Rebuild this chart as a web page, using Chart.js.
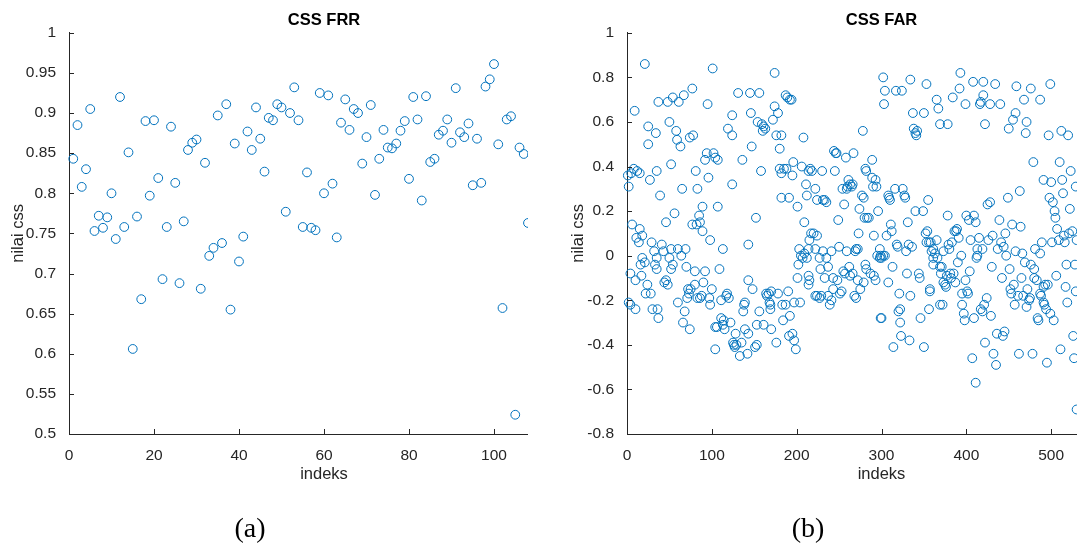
<!DOCTYPE html>
<html>
<head>
<meta charset="utf-8">
<title>CSS FRR / CSS FAR</title>
<script src="https://cdn.jsdelivr.net/npm/chart.js@4.4.0/dist/chart.umd.min.js"></script>
<style>
  html, body { margin: 0; padding: 0; background: #fff; overflow: hidden; }
  body { width: 1077px; height: 545px; position: relative; }
  .panel { position: absolute; top: 0; height: 545px; overflow: hidden; }
  .panel canvas { display: block; }
  #panelA { left: 0; width: 528px; }
  #panelB { left: 560px; width: 517px; }
  .caption { position: absolute; top: 514px; font: 28px/28px "Liberation Serif", "Times New Roman", serif; color: #000; transform: translateX(-50%); }
</style>
</head>
<body>
<div class="panel" id="panelA"><canvas id="frrChart" width="600" height="545"></canvas></div>
<div class="panel" id="panelB"><canvas id="farChart" width="600" height="545"></canvas></div>
<div class="caption" style="left:250px">(a)</div>
<div class="caption" style="left:808px">(b)</div>
<script>
// nilai css untuk FRR, indeks 1..109 (sisanya terpotong di gambar)
const frrVal = [
  0.843, 0.885, 0.808, 0.830, 0.905, 0.753, 0.772, 0.757, 0.770, 0.800,
  0.743, 0.920, 0.758, 0.851, 0.606, 0.771, 0.668, 0.890, 0.797, 0.891,
  0.819, 0.693, 0.758, 0.883, 0.813, 0.688, 0.765, 0.854, 0.863, 0.867,
  0.681, 0.838, 0.722, 0.732, 0.897, 0.738, 0.911, 0.655, 0.862, 0.715,
  0.746, 0.877, 0.854, 0.907, 0.868, 0.827, 0.894, 0.891, 0.911, 0.907,
  0.777, 0.900, 0.932, 0.891, 0.758, 0.826, 0.757, 0.754, 0.925, 0.800,
  0.922, 0.812, 0.745, 0.888, 0.917, 0.879, 0.905, 0.900, 0.837, 0.870,
  0.910, 0.798, 0.843, 0.879, 0.857, 0.856, 0.862, 0.878, 0.890, 0.818,
  0.920, 0.892, 0.791, 0.921, 0.839, 0.843, 0.873, 0.878, 0.892, 0.863,
  0.931, 0.876, 0.870, 0.887, 0.810, 0.868, 0.813, 0.933, 0.942, 0.961,
  0.861, 0.657, 0.892, 0.896, 0.524, 0.857, 0.849, 0.763, 0.848
];

// FAR: indeks dan nilai css dibaca per daerah dari gambar
const farIdx = [
  21, 9, 1, 2, 5, 8, 12, 15, 6, 11, 15, 14, 18, 18, 21, 16, 4, 10, 17, 2, 4, 10, 22,
  25, 25, 27, 34, 37, 35, 39, 29, 32, 35, 33, 24, 28, 35, 30, 36, 37, 41, 43, 46, 44, 46, 48, 48, 50, 52, 54, 56, 50, 52, 54, 52,
  58, 59, 61, 63, 65, 67, 60, 64, 69, 70, 60, 66, 68, 74, 72, 73, 75, 71, 74, 77, 78,
  81, 83, 77, 82, 85, 86, 89, 89, 80, 83, 86, 90, 92, 88, 80, 92, 94, 95, 96, 98, 97, 98, 100, 101, 102, 104, 104, 106, 104,
  107, 107, 109, 111, 113, 111, 113, 114, 115, 117, 118, 119, 120, 122, 124, 124, 124, 125, 126, 127, 128, 129,
  131, 133, 135, 136, 137, 138, 139, 139, 143, 142, 145, 146, 147, 143, 143, 148, 151, 152, 153, 154, 156, 156, 153,
  158, 159, 160, 161, 161, 163, 164, 165, 167, 168, 169, 169, 170, 170, 172, 174, 174, 176, 176, 178, 178, 180, 180,
  182, 182, 182, 185, 187, 188, 189, 191, 192, 194, 184, 183, 187, 190, 192, 191, 195, 197, 199, 197, 195, 196, 201, 201, 202, 204,
  206, 208, 209, 211, 212, 214, 216, 218, 224, 222, 230, 203, 205, 207, 209, 212, 214, 215, 217, 220,
  222, 224, 227, 214, 215, 214, 222, 224, 227, 229, 228, 231, 233, 235, 231, 235, 233, 237,
  237, 239, 241, 243, 243, 244, 246, 247, 245, 249, 250, 251, 253, 255, 257, 258, 259, 256, 254, 248, 241,
  260, 261, 263, 265, 266, 259, 262, 263, 266, 267, 269, 270, 272, 268, 270, 272, 273, 274, 277, 278, 279, 280, 281, 282, 282, 283, 275, 279, 281,
  285, 287, 289, 289, 290, 291, 291, 293, 293, 294, 295, 296, 298, 298, 299, 300, 302, 299, 300, 302, 303, 304, 304, 306,
  308, 309, 310, 311, 312, 308, 313, 314, 316, 317, 318, 319, 320, 321, 322, 323, 324, 325, 327, 328, 329, 330, 322,
  331, 332, 333, 334, 334, 336, 337, 338, 340, 341, 340, 342, 344, 345, 346, 349, 350, 350, 352, 353, 353, 354, 355, 356, 356,
  357, 357, 358, 359, 361, 361, 361, 363, 365, 365, 366, 367, 369, 369, 369, 370, 371, 372, 373, 373, 375, 376, 377, 378, 378, 379, 380,
  381, 382, 383, 384, 385, 386, 387, 388, 389, 390, 391, 392, 393, 394, 395, 395, 397, 398, 399, 399, 400, 401, 402,
  403, 404, 405, 407, 408, 409, 409, 411, 412, 413, 413, 415, 416, 417, 417, 419, 419, 420, 420, 421, 422, 422, 424, 411,
  425, 426, 428, 428, 429, 430, 431, 432, 434, 435, 436, 437, 439, 440, 441, 442, 443, 444, 445, 446, 447,
  449, 450, 451, 452, 453, 454, 455, 456, 457, 458, 458, 459, 461, 462, 463, 464, 465, 466, 467, 468, 469, 470, 471, 471,
  472, 474, 475, 476, 476, 478, 479, 480, 480, 481, 483, 484, 485, 487, 487, 487, 488, 489, 491, 491, 491, 492, 493, 494,
  495, 496, 497, 498, 499, 499, 500, 501, 502, 503, 504, 505, 506, 507, 509, 510, 511, 512, 513, 514,
  515, 516, 517, 518, 519, 520, 521, 522, 523, 525, 526, 527, 528, 529, 529, 530, 530
];
const farVal = [
  0.86, 0.65, 0.36, 0.31, 0.37, 0.39, 0.38, 0.37, 0.14, 0.08, 0.12, 0.06, 0.09, -0.01, -0.03, -0.04, -0.08, -0.11, -0.09, -0.21, -0.22, -0.24, -0.17,
  0.58, 0.50, 0.34, 0.55, 0.69, 0.38, 0.27, 0.06, 0.02, -0.01, -0.04, -0.13, -0.17, -0.06, -0.24, -0.24, -0.28, 0.05, 0.02, 0.15, -0.12, -0.11, -0.13, 0.69, 0.60, 0.41, 0.71, 0.19, -0.01, -0.06, -0.04, 0.03,
  0.56, 0.52, 0.69, 0.49, 0.30, 0.72, 0.03, 0.00, 0.03, -0.05, -0.21, -0.30, -0.25, -0.33, -0.15, -0.17, -0.15, -0.19, 0.53, 0.75, 0.54,
  0.38, 0.30, 0.14, 0.14, 0.18, 0.15, 0.22, 0.11, -0.07, -0.19, -0.19, -0.12, -0.07, -0.18, -0.13, 0.43, 0.46, 0.68, 0.35, 0.07, -0.19, -0.22, -0.15, 0.84, 0.46, 0.44, -0.32, -0.32, -0.42,
  0.43, 0.22, -0.06, -0.20, 0.03, -0.28, -0.31, -0.29, -0.33, -0.18, -0.17, 0.57, -0.19, -0.30, 0.54, 0.63, 0.32, -0.39, -0.40, -0.41, -0.35, -0.40,
  0.73, -0.45, -0.39, 0.43, -0.25, -0.22, -0.21, -0.33, -0.35, -0.44, 0.73, 0.64, 0.49, 0.05, -0.11, -0.15, -0.41, 0.17, -0.31, 0.60, 0.73, -0.25, -0.40,
  0.38, 0.59, 0.56, -0.31, 0.58, 0.57, -0.17, -0.18, -0.17, -0.21, -0.22, -0.24, -0.16, -0.33, 0.61, 0.67, 0.82, 0.54, -0.39, 0.64, -0.17, 0.39, 0.48,
  0.54, 0.37, 0.26, 0.39, 0.72, 0.39, 0.71, 0.26, 0.70, 0.70, -0.29, -0.22, -0.22, -0.16, -0.27, -0.36, -0.35, -0.38, -0.42, -0.21, 0.36, 0.42, 0.22, -0.10, -0.04, -0.21,
  0.40, 0.53, 0.15, 0.32, 0.27, 0.38, 0.39, 0.38, 0.25, 0.30, 0.38, 0.03, 0.00, -0.01, 0.01, -0.01, 0.03, 0.07, 0.10, 0.10,
  0.03, 0.09, -0.01, -0.09, -0.11, -0.13, -0.18, -0.18, -0.19, -0.18, -0.06, 0.25, 0.25, 0.24, 0.02, -0.01, -0.10, -0.05,
  -0.18, -0.22, -0.20, -0.10, -0.15, 0.47, 0.46, 0.46, 0.38, 0.16, 0.04, -0.17, -0.16, -0.07, -0.08, 0.44, 0.30, 0.23, 0.30, -0.11, 0.02,
  0.31, 0.34, 0.32, 0.31, 0.32, 0.02, -0.05, -0.09, -0.08, 0.46, 0.02, 0.03, 0.03, -0.18, -0.19, -0.11, 0.10, 0.21, 0.27, 0.56, 0.26, 0.17, 0.39, 0.38, -0.06, 0.17, -0.15, -0.12, -0.04,
  0.17, -0.08, 0.43, 0.35, 0.31, 0.09, -0.09, -0.11, 0.34, 0.31, 0.00, 0.20, -0.01, 0.03, 0.00, -0.01, 0.00, -0.28, -0.28, 0.80, 0.68, 0.00, 0.74, 0.09,
  0.27, 0.26, 0.25, 0.14, 0.11, -0.12, -0.05, -0.41, 0.30, 0.74, 0.05, 0.04, -0.25, -0.17, -0.24, -0.36, 0.74, 0.30, 0.27, 0.26, 0.02, -0.08, -0.30,
  0.15, 0.05, -0.38, 0.79, -0.18, 0.04, 0.64, 0.57, 0.55, 0.54, 0.20, 0.56, -0.08, -0.10, -0.28, 0.20, 0.64, -0.41, 0.10, 0.77, 0.06, 0.11, 0.25, -0.24, 0.06,
  -0.15, -0.16, 0.06, 0.02, -0.01, 0.03, -0.04, 0.01, 0.70, 0.07, -0.01, 0.66, -0.05, -0.22, 0.59, -0.08, -0.05, -0.22, -0.12, 0.02, -0.13, -0.14, -0.09, 0.18, 0.59, 0.05, 0.03,
  -0.08, -0.10, 0.06, 0.71, -0.08, 0.11, -0.12, 0.11, 0.12, -0.03, 0.08, 0.75, 0.82, 0.00, -0.17, -0.22, -0.26, -0.29, 0.68, -0.11, 0.18, -0.16, -0.17,
  0.16, -0.07, 0.07, -0.46, 0.78, -0.28, 0.18, 0.15, -0.01, 0.00, 0.03, 0.08, 0.68, 0.69, -0.24, -0.25, 0.03, 0.78, 0.72, -0.22, 0.59, -0.39, -0.19, -0.57,
  0.23, 0.07, 0.68, 0.24, -0.27, -0.05, 0.09, -0.44, 0.77, -0.49, -0.35, 0.03, 0.16, 0.68, 0.06, -0.10, -0.36, 0.04, -0.34, 0.10, 0.00,
  0.26, 0.57, -0.06, -0.15, -0.17, 0.14, 0.61, -0.13, -0.22, 0.02, 0.64, 0.76, -0.18, -0.44, 0.29, 0.13, -0.10, 0.01, -0.18, 0.70, -0.03, 0.55, 0.60, -0.23,
  -0.15, -0.20, -0.19, 0.75, -0.04, -0.44, 0.42, -0.10, -0.06, 0.03, -0.11, -0.28, -0.29, 0.70, -0.17, 0.01, -0.18, 0.06, 0.34, -0.14, -0.21, -0.22, -0.13, -0.24,
  -0.48, -0.13, 0.54, 0.26, 0.77, -0.26, 0.33, 0.06, 0.24, -0.29, 0.20, 0.17, -0.09, 0.12, 0.07, 0.42, -0.42, 0.56, 0.34, 0.28,
  0.09, 0.06, -0.14, -0.04, -0.21, 0.54, 0.10, 0.21, 0.38, 0.11, -0.36, -0.46, -0.04, -0.16, 0.31, -0.69, 0.07
];

const FONT = '"Liberation Sans", Arial, sans-serif';
const TEXT = '#262626';
const AXIS = '#262626';
const BLUE = '#0072BD';

// label tick gaya MATLAB: 1, 0.95, 0.9, -0.2, 0
const tickLabel = v => String(Number(v.toFixed(3)));

// tick kecil ke arah dalam seperti MATLAB
const innerTicks = {
  id: 'innerTicks',
  afterDraw(chart) {
    const { ctx, chartArea: a, scales: { x, y } } = chart;
    ctx.save();
    ctx.strokeStyle = AXIS;
    ctx.lineWidth = 1;
    ctx.beginPath();
    x.ticks.forEach(t => {
      const px = Math.round(x.getPixelForValue(t.value)) + 0.5;
      ctx.moveTo(px, a.bottom);
      ctx.lineTo(px, a.bottom - 5);
    });
    y.ticks.forEach(t => {
      const py = Math.round(y.getPixelForValue(t.value)) + 0.5;
      ctx.moveTo(a.left, py);
      ctx.lineTo(a.left + 5, py);
    });
    ctx.stroke();
    ctx.restore();
  }
};

function buildChart(id, title, points, xMax, xStep, yMin, yMax, yStep, axisWidth, padRight) {
  return new Chart(document.getElementById(id), {
    type: 'scatter',
    data: {
      datasets: [{
        data: points,
        pointStyle: 'circle',
        pointRadius: 4.4,
        pointHoverRadius: 4.4,
        pointBorderWidth: 1,
        borderColor: BLUE,
        backgroundColor: 'rgba(0,0,0,0)',
        clip: false
      }]
    },
    options: {
      responsive: false,
      animation: false,
      events: [],
      layout: { padding: { left: 0, right: padRight, top: 0, bottom: 0 } },
      plugins: {
        legend: { display: false },
        tooltip: { enabled: false },
        title: {
          display: true,
          text: title,
          fullSize: false,
          color: '#000',
          font: { family: FONT, size: 16.5, weight: 'bold', lineHeight: 1.2 },
          padding: { top: 11, bottom: 2 }
        }
      },
      scales: {
        x: {
          type: 'linear',
          min: 0,
          max: xMax,
          grid: { display: false },
          border: { display: true, color: AXIS, width: 1 },
          ticks: { stepSize: xStep, color: TEXT, padding: 4, font: { family: FONT, size: 15.5 }, callback: tickLabel },
          title: { display: true, text: 'indeks', color: TEXT, font: { family: FONT, size: 16.5, lineHeight: 1.2 }, padding: { top: 0, bottom: 61 } },
          afterFit: s => { s.height = 111; }
        },
        y: {
          type: 'linear',
          min: yMin,
          max: yMax,
          grid: { display: false },
          border: { display: true, color: AXIS, width: 1 },
          ticks: { stepSize: yStep, color: TEXT, padding: 5, font: { family: FONT, size: 15.5 }, callback: tickLabel },
          title: { display: true, text: 'nilai css', color: TEXT, font: { family: FONT, size: 16.5, lineHeight: 1.2 }, padding: { top: 9, bottom: 0 } },
          afterFit: s => { s.width = axisWidth; }
        }
      }
    },
    plugins: [innerTicks]
  });
}

const frrPoints = frrVal.map((v, i) => ({ x: i + 1, y: v }));
const farPoints = farIdx.map((ix, i) => ({ x: ix, y: farVal[i] }));

buildChart('frrChart', 'CSS FRR', frrPoints, 120, 20, 0.5, 1, 0.05, 69, 21);
buildChart('farChart', 'CSS FAR', farPoints, 600, 100, -0.8, 1, 0.2, 67, 24);
</script>
</body>
</html>
